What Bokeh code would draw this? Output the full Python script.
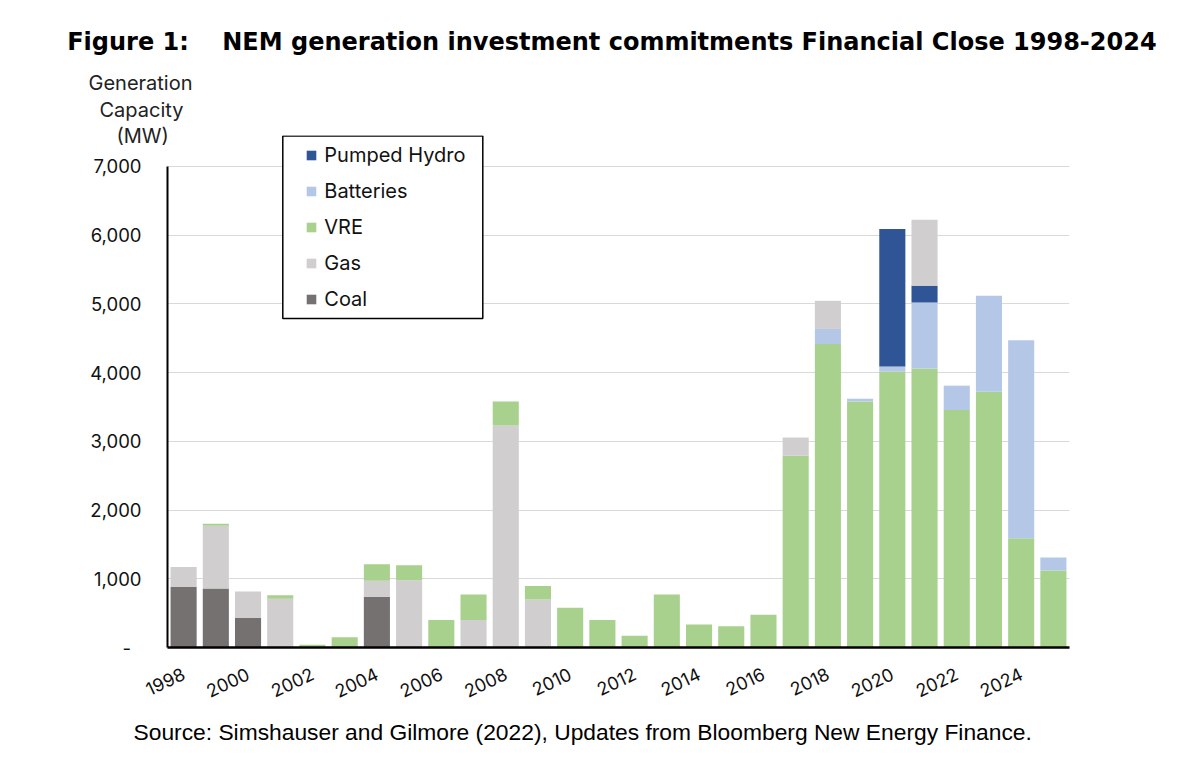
from bokeh.plotting import figure
from bokeh.models import (ColumnDataSource, Range1d, BoxAnnotation, Legend, LegendItem,
                          FixedTicker, Title, BasicTickFormatter)
from bokeh.embed import file_html
from bokeh.resources import INLINE

years     = list(range(1998, 2026))
coal      = [880, 860, 430, 0, 0, 0, 740, 0, 0, 0, 0, 0, 0, 0, 0, 0, 0, 0, 0, 0, 0, 0, 0, 0, 0, 0, 0, 0]
gas       = [290, 910, 385, 710, 0, 0, 230, 980, 0, 400, 3230, 700, 0, 0, 0, 0, 0, 0, 0, 0, 0, 0, 0, 0, 0, 0, 0, 0]
vre       = [0, 30, 0, 50, 40, 150, 240, 215, 400, 370, 350, 195, 580, 400, 170, 770, 335, 310, 475,
             2790, 4415, 3580, 4015, 4060, 3455, 3720, 1590, 1120]
batteries = [0, 0, 0, 0, 0, 0, 0, 0, 0, 0, 0, 0, 0, 0, 0, 0, 0, 0, 0, 0, 220, 40, 75, 960, 355, 1400, 2880, 190]
pumped    = [0, 0, 0, 0, 0, 0, 0, 0, 0, 0, 0, 0, 0, 0, 0, 0, 0, 0, 0, 0, 0, 0, 2000, 245, 0, 0, 0, 0]
gas_late  = [0, 0, 0, 0, 0, 0, 0, 0, 0, 0, 0, 0, 0, 0, 0, 0, 0, 0, 0, 265, 410, 0, 0, 960, 0, 0, 0, 0]

series_names = ["Coal", "Gas", "VRE", "Batteries", "Pumped Hydro", "Gas"]
colors = ["#767171", "#D0CECE", "#A9D18E", "#B4C7E7", "#2F5597", "#D0CECE"]
y_ticks = [0, 1000, 2000, 3000, 4000, 5000, 6000, 7000]
y_tick_labels = ["-\u00a0\u00a0", "1,000", "2,000", "3,000", "4,000", "5,000", "6,000", "7,000"]
x_ticks = [1998, 2000, 2002, 2004, 2006, 2008, 2010, 2012, 2014, 2016, 2018, 2020, 2022, 2024]

keys = ["coal", "gas", "vre", "batteries", "pumped", "gas_late"]
src = ColumnDataSource(dict(year=years, coal=coal, gas=gas, vre=vre, batteries=batteries,
                            pumped=pumped, gas_late=gas_late))

W, H = 1200, 763
p = figure(x_range=Range1d(1997.5, 2025.5), y_range=Range1d(0, 7450),
           width=W, height=H, output_backend="svg", toolbar_location=None,
           min_border_left=167, min_border_right=131, min_border_top=135, min_border_bottom=116)

renderers = p.vbar_stack(keys, x="year", width=0.81, color=colors, source=src, line_color=None)

p.outline_line_color = None
p.background_fill_color = "white"
p.xgrid.grid_line_color = None
p.ygrid.grid_line_color = "#D9D9D9"
p.ygrid.grid_line_width = 1

p.yaxis.ticker = FixedTicker(ticks=y_ticks)
p.yaxis.bounds = (0, 7000)
p.yaxis.major_label_overrides = {t: l for t, l in zip(y_ticks, y_tick_labels)}
p.yaxis.axis_line_color = "black"
p.yaxis.axis_line_width = 2
p.yaxis.major_tick_line_color = None
p.yaxis.minor_tick_line_color = None
p.yaxis.major_label_standoff = 20
p.yaxis.major_label_text_font = "Inter"
p.yaxis.major_label_text_font_size = "18.5px"
p.yaxis.major_label_text_color = "#111111"

p.xaxis.ticker = FixedTicker(ticks=x_ticks)
p.xaxis.formatter = BasicTickFormatter(use_scientific=False)
p.xaxis.axis_line_color = "black"
p.xaxis.axis_line_width = 2.5
p.xaxis.major_tick_line_color = None
p.xaxis.minor_tick_line_color = None
p.xaxis.major_label_orientation = 0.44
p.xaxis.major_label_standoff = 19
p.xaxis.major_label_text_font = "Inter"
p.xaxis.major_label_text_font_size = "18px"
p.xaxis.major_label_text_color = "#111111"

# legend frame (frame-relative screen px, y upward from frame bottom)
box = BoxAnnotation(left=115.3, right=315.3, top=511.6, bottom=328.9,
                    left_units="screen", right_units="screen", top_units="screen", bottom_units="screen",
                    fill_color="white", fill_alpha=1.0, line_color="black", line_alpha=1.0, line_width=1.5)
p.add_layout(box)

legend_order = [4, 3, 2, 1, 0]
items = [LegendItem(label=series_names[i], renderers=[renderers[i]]) for i in legend_order]
legend = Legend(items=items, location=(138.3, 336.5), padding=7, spacing=12,
                glyph_width=12, glyph_height=12, label_height=20, label_standoff=7,
                label_text_font="Inter", label_text_font_size="20px", label_text_color="#111111",
                border_line_color=None, background_fill_alpha=0)
p.add_layout(legend, "center")

# texts outside the frame: titles stacked upward from the frame top
for txt, left, so in [("(MW)", 116, -25), ("Capacity", 99, 26), ("Generation", 88, -24)]:
    p.add_layout(Title(text=txt, align="left", offset=left - 167, standoff=so,
                       text_font="Inter", text_font_size="20px", text_font_style="normal",
                       text_baseline="middle", text_color="#222222"), "above")
p.add_layout(Title(text="Figure 1:\u00a0\u00a0\u00a0\u00a0NEM generation investment commitments Financial Close 1998-2024",
                   align="left", offset=66.7 - 167, standoff=50,
                   text_font="DejaVu Sans", text_font_style="bold", text_font_size="24px",
                   text_baseline="alphabetic", text_color="black"), "above")
p.add_layout(Title(text="Source: Simshauser and Gilmore (2022), Updates from Bloomberg New Energy Finance.",
                   align="left", offset=133 - 167, standoff=22, vertical_align="top",
                   text_font="Liberation Sans", text_font_size="22.8px", text_font_style="normal",
                   text_baseline="middle", text_color="black"), "below")

open("out.html", "w").write(file_html(p, INLINE))
